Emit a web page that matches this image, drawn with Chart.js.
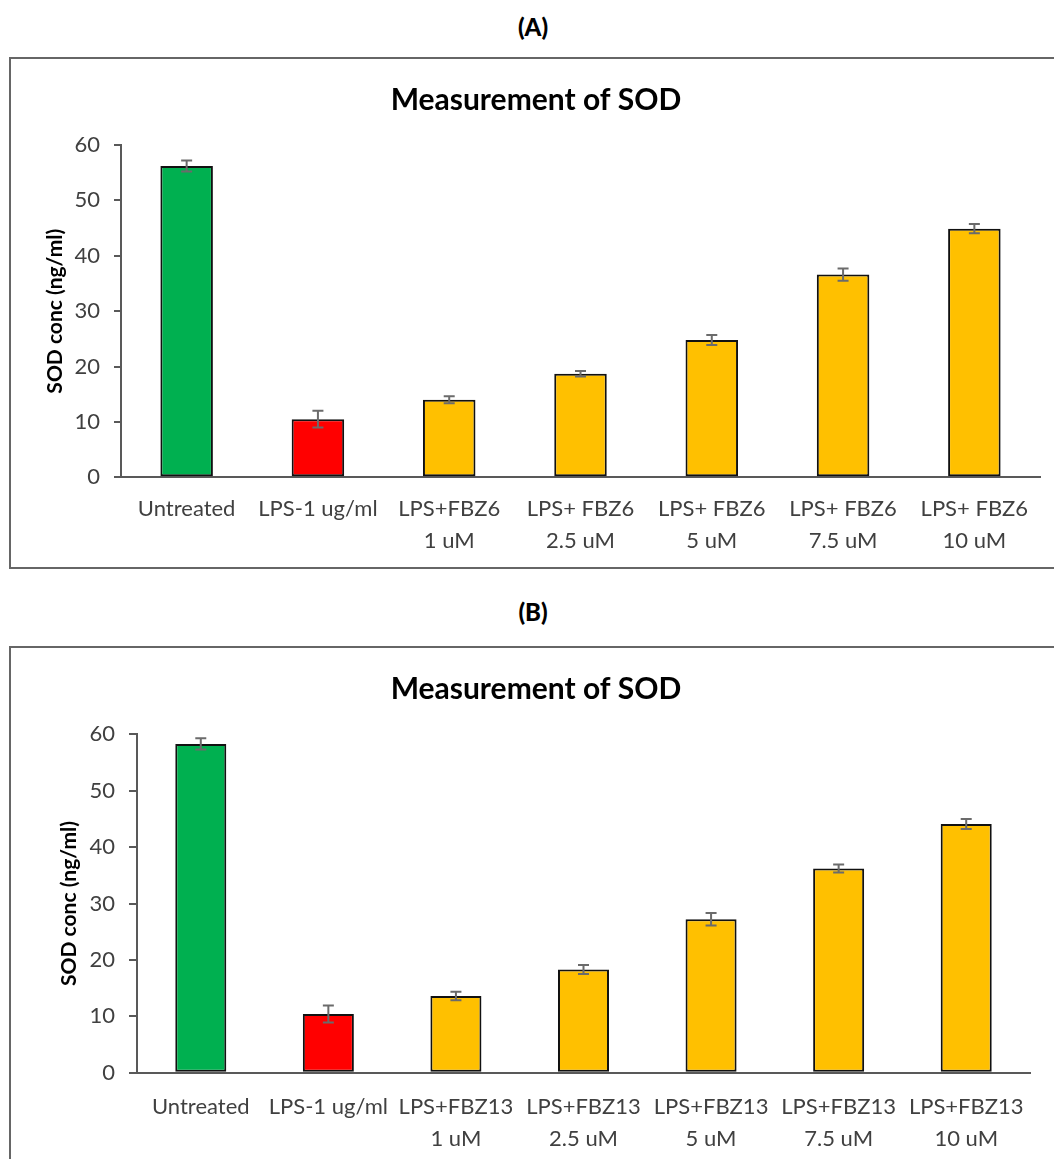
<!DOCTYPE html>
<html>
<head>
<meta charset="utf-8">
<script src="https://cdn.jsdelivr.net/npm/chart.js@4.4.1/dist/chart.umd.min.js"></script>
<style>
  html, body { margin: 0; padding: 0; background: #fff; }
  #page { position: relative; width: 1054px; height: 1159px; overflow: hidden; font-family: Lato, sans-serif; }
  .panel-label { position: absolute; left: 0; width: 1066px; text-align: center; font-weight: 900; font-size: 24px; color: #000; line-height: 1; }
  .box { position: absolute; left: 9px; width: 1100px; border: 2px solid #666; box-sizing: border-box; }
  canvas { position: absolute; left: 0; }
</style>
</head>
<body>
<div id="page">
  <div class="panel-label" style="top:15px">(A)</div>
  <div class="box" style="top:57px;height:512px"></div>
  <canvas id="chartA" width="1054" height="511" style="top:57px"></canvas>

  <div class="panel-label" style="top:600px">(B)</div>
  <div class="box" style="top:646px;height:600px"></div>
  <canvas id="chartB" width="1054" height="513" style="top:646px"></canvas>
</div>
<script>
// 数据
const labelsA = ['Untreated', 'LPS-1 ug/ml', ['LPS+FBZ6', '1 uM'], ['LPS+ FBZ6', '2.5 uM'], ['LPS+ FBZ6', '5 uM'], ['LPS+ FBZ6', '7.5 uM'], ['LPS+ FBZ6', '10 uM']];
const valuesA = [56.2, 10.5, 14.0, 18.7, 24.8, 36.6, 44.9];
const errorsA = [1.0, 1.5, 0.65, 0.5, 0.9, 1.1, 0.85];

const labelsB = ['Untreated', 'LPS-1 ug/ml', ['LPS+FBZ13', '1 uM'], ['LPS+FBZ13', '2.5 uM'], ['LPS+FBZ13', '5 uM'], ['LPS+FBZ13', '7.5 uM'], ['LPS+FBZ13', '10 uM']];
const valuesB = [58.3, 10.4, 13.6, 18.3, 27.2, 36.2, 44.1];
const errorsB = [1.0, 1.5, 0.75, 0.8, 1.1, 0.7, 0.9];

const barColors = ['#00b050', '#ff0000', '#ffc000', '#ffc000', '#ffc000', '#ffc000', '#ffc000'];
const yTicks = [0, 10, 20, 30, 40, 50, 60];

const FONT = 'Lato, sans-serif';

// 误差线
const errorBarPlugin = {
  id: 'errorBars',
  afterDatasetsDraw(chart, args, opts) {
    const ctx = chart.ctx;
    const y = chart.scales.y;
    const meta = chart.getDatasetMeta(0);
    const values = chart.data.datasets[0].data;
    ctx.save();
    ctx.strokeStyle = '#6b6b6b';
    ctx.lineWidth = 2;
    meta.data.forEach((bar, i) => {
      const top = y.getPixelForValue(values[i] + opts.errors[i]);
      const bot = y.getPixelForValue(values[i] - opts.errors[i]);
      const x = bar.x;
      ctx.beginPath();
      ctx.moveTo(x, top); ctx.lineTo(x, bot);
      ctx.moveTo(x - 5.5, top); ctx.lineTo(x + 5.5, top);
      ctx.moveTo(x - 5.5, bot); ctx.lineTo(x + 5.5, bot);
      ctx.stroke();
    });
    ctx.restore();
  }
};

function makeChart(id, labels, values, errors, cfg) {
  return new Chart(document.getElementById(id), {
    type: 'bar',
    data: {
      labels: labels,
      datasets: [{
        data: values,
        backgroundColor: barColors,
        borderColor: '#111',
        borderWidth: 2,
        borderSkipped: false,
        barPercentage: 0.4,
        categoryPercentage: 1.0
      }]
    },
    options: {
      responsive: false,
      animation: false,
      events: [],
      layout: { padding: { top: 0, left: cfg.padLeft, right: cfg.right, bottom: 0 } },
      plugins: {
        legend: { display: false },
        tooltip: { enabled: false },
        title: {
          display: true,
          text: 'Measurement of SOD',
          color: '#000',
          font: { family: FONT, size: 30, weight: 'bold', lineHeight: 1.2 },
          padding: { top: 25, bottom: cfg.top - 25 - 36 }
        },
        errorBars: { errors: errors }
      },
      scales: {
        x: {
          grid: { display: false },
          border: { display: true, color: '#595959', width: 2 },
          ticks: {
            color: '#404040',
            font: { family: FONT, size: 22, lineHeight: 1.45 },
            padding: cfg.xPad,
            maxRotation: 0,
            autoSkip: false
          },
          afterFit(scale) { scale.height = cfg.xHeight; }
        },
        y: {
          min: 0,
          max: 60,
          afterBuildTicks(scale) { scale.ticks = yTicks.map(v => ({ value: v })); },
          grid: { display: true, drawOnChartArea: false, drawTicks: true, tickLength: cfg.tick, color: '#595959', lineWidth: 2 },
          border: { display: true, color: '#595959', width: 2 },
          ticks: {
            color: '#404040',
            font: { family: FONT, size: 22 },
            padding: 14
          },
          title: {
            display: true,
            text: 'SOD conc (ng/ml)',
            color: '#000',
            font: { family: FONT, size: 21, weight: 'bold', lineHeight: 1.2 },
            padding: { top: cfg.yTitleX - cfg.padLeft - 12.6, bottom: 0 }
          },
          afterFit(scale) { scale.width = cfg.left - cfg.padLeft; }
        }
      }
    },
    plugins: [errorBarPlugin]
  });
}

makeChart('chartA', labelsA, valuesA, errorsA, { padLeft: 32, left: 121, right: 14, top: 88, xHeight: 90.7, xPad: 8, tick: 7, yTitleX: 55 });
makeChart('chartB', labelsB, valuesB, errorsB, { padLeft: 42, left: 137, right: 24, top: 88.3, xHeight: 86.3, xPad: 10, tick: 8, yTitleX: 69 });
</script>
</body>
</html>
